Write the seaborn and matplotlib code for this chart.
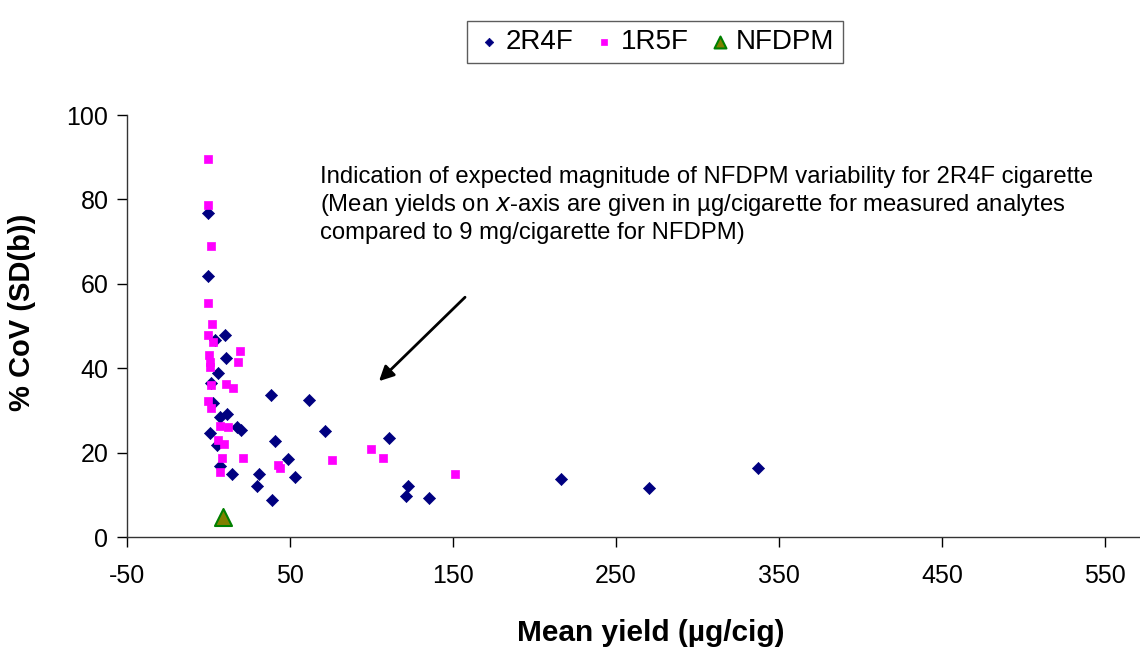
import matplotlib
matplotlib.use("Agg")
import matplotlib.pyplot as plt
import seaborn as sns
import pandas as pd

# 2R4F series
x_2r4f = [0.1, 0.1, 10.3, 4.2, 11.3, 5.8, 1.5, 38.3, 62.0, 3.1, 7.2, 11.7, 17.5, 20.1,
          1.1, 5.2, 41.0, 71.7, 110.9, 7.2, 14.8, 31.2, 29.8, 49.1, 53.3, 39.3,
          122.8, 121.3, 135.3, 216.3, 270.6, 337.5]
y_2r4f = [76.8, 61.9, 47.9, 46.7, 42.5, 38.8, 36.6, 33.6, 32.6, 31.7, 28.5, 29.1, 26.1, 25.4,
          24.6, 21.8, 22.9, 25.1, 23.5, 16.9, 14.9, 14.9, 12.2, 18.6, 14.3, 8.9,
          12.2, 9.8, 9.4, 13.7, 11.6, 16.4]
# 1R5F series
x_1r5f = [0.1, 0.1, 1.5, 0.1, 2.5, 0.1, 3.1, 19.5, 0.5, 1.1, 1.1, 18.1, 1.5, 11.3, 15.4,
          0.1, 1.7, 7.2, 12.3, 6.2, 9.9, 8.3, 21.5, 7.2, 42.6, 44.0, 75.8, 99.9, 107.1, 151.4]
y_1r5f = [89.5, 78.7, 69.0, 55.4, 50.6, 47.9, 46.3, 44.1, 43.1, 41.5, 40.4, 41.5, 36.0, 36.2, 35.4,
          32.3, 30.5, 26.4, 26.1, 23.0, 22.0, 18.8, 18.8, 15.5, 17.1, 16.5, 18.2, 20.9, 18.7, 14.9]
# NFDPM
x_nfdpm = [9.0]
y_nfdpm = [4.8]

x_ticks = [-50, 50, 150, 250, 350, 450, 550]
y_ticks = [0, 20, 40, 60, 80, 100]

sns.set_style("white")
plt.rcParams['font.family'] = ['Liberation Sans', 'DejaVu Sans']
plt.rcParams['axes.unicode_minus'] = False
plt.rcParams['text.color'] = 'black'
plt.rcParams['axes.labelcolor'] = 'black'
plt.rcParams['xtick.color'] = 'black'
plt.rcParams['ytick.color'] = 'black'

fig = plt.figure(figsize=(11.4, 6.48), dpi=100)
ax = fig.add_axes([0.111, 0.171, 0.889, 0.6515])

df1 = pd.DataFrame({"x": x_2r4f, "y": y_2r4f})
df2 = pd.DataFrame({"x": x_1r5f, "y": y_1r5f})
df3 = pd.DataFrame({"x": x_nfdpm, "y": y_nfdpm})

sns.scatterplot(data=df1, x="x", y="y", ax=ax, marker="D", s=38, color="#000080",
                edgecolor="#000080", linewidth=0.5, label="2R4F", zorder=3)
sns.scatterplot(data=df2, x="x", y="y", ax=ax, marker="s", s=40, color="#FF00FF",
                edgecolor="#FF00FF", linewidth=0.5, label="1R5F", zorder=3)
sns.scatterplot(data=df3, x="x", y="y", ax=ax, marker="^", s=150, color="#808000",
                edgecolor="#008000", linewidth=1.5, label="NFDPM", zorder=4)

ax.set_xlim(-50, 571.5)
ax.set_ylim(0, 100)
ax.set_xticks(x_ticks)
ax.set_yticks(y_ticks)
ax.tick_params(axis='both', which='major', labelsize=18, direction='out', length=7,
               width=1, color='black', pad=6, left=True, bottom=True, labelcolor='black')
ax.tick_params(axis='x', pad=12)
for side in ['top', 'right']:
    ax.spines[side].set_visible(False)
for side in ['left', 'bottom']:
    ax.spines[side].set_color('#333333')
    ax.spines[side].set_linewidth(1)

ax.set_xlabel("Mean yield (µg/cig)", fontsize=21.5, fontweight='bold', color='black')
ax.xaxis.set_label_coords(0.517, -0.193)
ax.set_ylabel("% CoV (SD(b))", fontsize=21, fontweight='bold', color='black')
ax.yaxis.set_label_coords(-0.0895, 0.533)

ax.text(68.5, 87.9,
        "Indication of expected magnitude of NFDPM variability for 2R4F cigarette\n"
        "(Mean yields on $\\it{x}$-axis are given in µg/cigarette for measured analytes\n"
        "compared to 9 mg/cigarette for NFDPM)",
        fontsize=17.2, va='top', ha='left', linespacing=1.22, color='black')

ax.annotate("", xy=(103.6, 36.5), xytext=(158.8, 57.3),
            arrowprops=dict(arrowstyle="-|>", color="black", lw=2, mutation_scale=22))

ax.legend_.remove()
h, l = ax.get_legend_handles_labels()
leg = fig.legend(h, l, loc='center', bbox_to_anchor=(0.5746, 0.935), ncol=3,
                 fontsize=20, frameon=True, fancybox=False, edgecolor='#333333',
                 handletextpad=0.1, columnspacing=0.6, borderpad=0.3,
                 handlelength=1.0, markerscale=0.7)
leg.get_frame().set_linewidth(1)
for t in leg.get_texts():
    t.set_color('black')

fig.savefig("out.png", dpi=100)
